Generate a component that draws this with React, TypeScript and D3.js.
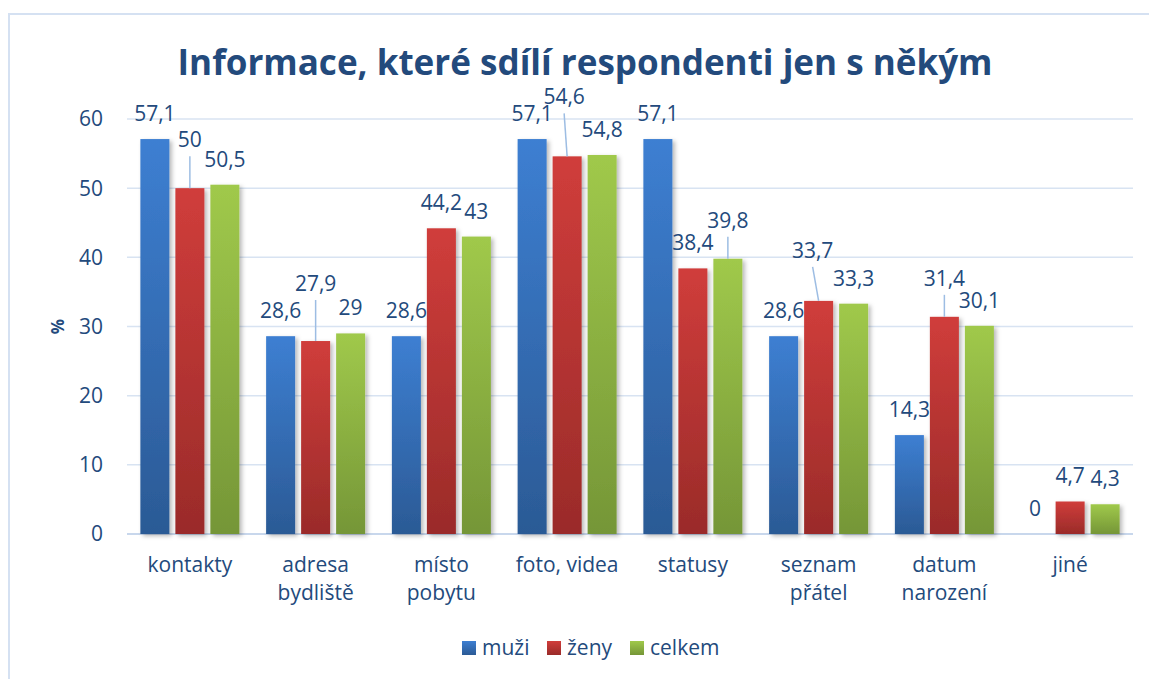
import React from 'react';
import * as d3 from 'd3';

// chart values
const categories = ['kontakty', 'adresa bydliště', 'místo pobytu', 'foto, videa', 'statusy', 'seznam přátel', 'datum narození', 'jiné'];
const categoryLines = [['kontakty'], ['adresa', 'bydliště'], ['místo', 'pobytu'], ['foto, videa'], ['statusy'], ['seznam', 'přátel'], ['datum', 'narození'], ['jiné']];
const series = ['muži', 'ženy', 'celkem'];
const muzi = [57.1, 28.6, 28.6, 57.1, 57.1, 28.6, 14.3, 0];
const zeny = [50, 27.9, 44.2, 54.6, 38.4, 33.7, 31.4, 4.7];
const celkem = [50.5, 29, 43, 54.8, 39.8, 33.3, 30.1, 4.3];
const yTicks = [0, 10, 20, 30, 40, 50, 60];

const values = [muzi, zeny, celkem];

// labels that Excel pushed up and tied back with a leader line
const leaderLift: Record<string, { lift: number; dx: number }> = {
  'kontakty|ženy': { lift: 23, dx: 0 },
  'adresa bydliště|ženy': { lift: 32, dx: 0 },
  'foto, videa|ženy': { lift: 34, dx: -3 },
  'statusy|celkem': { lift: 13, dx: 0 },
  'seznam přátel|ženy': { lift: 25, dx: -6 },
  'datum narození|ženy': { lift: 13, dx: 0 },
};

const colors = {
  'muži': ['#3d7fd2', '#2b5a95'],
  'ženy': ['#d03d3b', '#9a2b29'],
  'celkem': ['#a0c94b', '#759637'],
};

const W = 1149;
const H = 679;
const margin = { top: 119, right: 16, bottom: 145, left: 127 };
const textColor = '#234a7c';
const font = "'Open Sans', sans-serif";
const fs = 21;

const App = () => {
  const x0 = d3.scaleBand().domain(categories).range([margin.left, W - margin.right]).paddingInner(0).paddingOuter(0);
  const x1 = d3.scaleBand().domain(series).range([0, x0.bandwidth()]).paddingInner(0.171).paddingOuter(0.382);
  const y = d3.scaleLinear().domain([0, 60]).range([H - margin.bottom, margin.top]);
  const fmt = (v: number) => String(v).replace('.', ',');

  return (
    <svg width={W} height={H} style={{ position: 'absolute', left: 0, top: 0, background: '#fff' }} fontFamily={font}>
      <defs>
        {series.map((s, i) => (
          <linearGradient key={s} id={`g${i}`} x1="0" y1="0" x2="0" y2="1">
            <stop offset="0%" stopColor={colors[s][0]} />
            <stop offset="100%" stopColor={colors[s][1]} />
          </linearGradient>
        ))}
        <filter id="shadow" x="-20%" y="-10%" width="150%" height="130%">
          <feDropShadow dx="2.5" dy="2" stdDeviation="2" floodColor="#000" floodOpacity="0.28" />
        </filter>
      </defs>

      {/* chart border */}
      <rect x={9} y={14} width={1180} height={720} fill="none" stroke="#d5e1f2" strokeWidth={2} />

      {/* title */}
      <text x={585} y={75} textAnchor="middle" fontSize={35} fontWeight="bold" fill={textColor} textLength={815} lengthAdjust="spacingAndGlyphs">
        Informace, které sdílí respondenti jen s někým
      </text>

      {/* gridlines + y ticks */}
      {yTicks.map((t) => (
        <g key={t}>
          <line x1={margin.left} x2={W - margin.right} y1={y(t)} y2={y(t)} stroke={t === 0 ? '#c8d7ec' : '#d8e3f2'} strokeWidth={t === 0 ? 2 : 1.5} />
          <text x={103} y={y(t)} dy="0.35em" textAnchor="end" fontSize={fs} fill={textColor}>{t}</text>
        </g>
      ))}

      <text transform={`translate(64,${y(30)}) rotate(-90)`} textAnchor="middle" fontSize={17} fontWeight="bold" fill={textColor}>%</text>

      {/* bars */}
      {categories.map((c, ci) => (
        <g key={c} transform={`translate(${x0(c)},0)`}>
          {series.map((s, si) => {
            const v = values[si][ci];
            if (v <= 0) return null;
            return (
              <rect key={s} x={x1(s)} y={y(v)} width={x1.bandwidth()} height={y(0) - y(v)} fill={`url(#g${si})`} filter="url(#shadow)" />
            );
          })}
        </g>
      ))}

      {/* data labels */}
      {categories.map((c, ci) => (
        <g key={c} transform={`translate(${x0(c)},0)`}>
          {series.map((s, si) => {
            const v = values[si][ci];
            const cx = (x1(s) as number) + x1.bandwidth() / 2;
            const top = y(v);
            const ll = leaderLift[`${c}|${s}`];
            const base = top - 18 - (ll ? ll.lift : 0);
            const lx = cx + (ll ? ll.dx : 0);
            return (
              <g key={s}>
                {ll && <line x1={lx} y1={base + 9} x2={cx} y2={top} stroke="#9dbde3" strokeWidth={1.5} />}
                <text x={lx} y={base} textAnchor="middle" fontSize={fs} fill={textColor}>{fmt(v)}</text>
              </g>
            );
          })}
        </g>
      ))}

      {/* category labels */}
      {categories.map((c, ci) => (
        <text key={c} x={(x0(c) as number) + x0.bandwidth() / 2} y={572} textAnchor="middle" fontSize={fs} fill={textColor}>
          {categoryLines[ci].map((line, li) => (
            <tspan key={li} x={(x0(c) as number) + x0.bandwidth() / 2} dy={li === 0 ? 0 : 28}>{line}</tspan>
          ))}
        </text>
      ))}

      {/* legend */}
      {series.map((s, si) => {
        const lx = [462, 547, 630][si];
        return (
          <g key={s}>
            <rect x={lx} y={641} width={14} height={14} fill={`url(#g${si})`} />
            <text x={lx + 20} y={648} dy="0.35em" fontSize={fs} fill={textColor}>{s}</text>
          </g>
        );
      })}
    </svg>
  );
};

export default App;
